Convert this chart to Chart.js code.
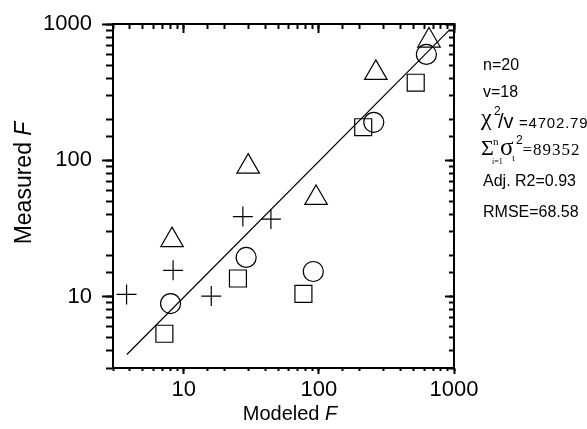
<!DOCTYPE html>
<html>
<head>
<meta charset="utf-8">
<title>Measured vs Modeled F</title>
<script src="https://cdn.jsdelivr.net/npm/chart.js@4.4.1/dist/chart.umd.min.js"></script>
<style>
  html, body { margin: 0; padding: 0; background: #fff; }
  #box { width: 587px; height: 429px; }
</style>
</head>
<body>
<div id="box"><canvas id="chart" width="587" height="429"></canvas></div>
<script>
const squareX = [7.2, 25.2, 76.9, 213, 521];
const squareY = [5.35, 13.6, 10.5, 175, 371];
const circleX = [8.0, 29, 91, 255, 625];
const circleY = [8.9, 19.4, 15.3, 190, 598];
const triangleX = [8.2, 30, 95.4, 264, 653];
const triangleY = [26, 90, 53, 438, 756];
const crossX = [3.78, 8.35, 16, 27.4, 44.2];
const crossY = [10.4, 15.6, 10.1, 38.7, 37.1];
const fitX = [3.8, 930];
const fitY = [3.77, 910];
const axisMin = 3;
const axisMax = 1000;

const SANS = '"Liberation Sans", Arial, sans-serif';
const SERIF = '"Liberation Serif", "Times New Roman", serif';

function font(size, family, style) {
  return (style || 'normal') + ' ' + size + 'px ' + family;
}

function points(xs, ys) {
  return xs.map((x, i) => ({ x, y: ys[i] }));
}

function markers(label, xs, ys, style, radius) {
  return {
    label,
    data: points(xs, ys),
    pointStyle: style,
    pointRadius: radius,
    pointHoverRadius: radius,
    pointBorderColor: '#000',
    pointBackgroundColor: 'rgba(0,0,0,0)',
    pointBorderWidth: 1.2,
    showLine: false
  };
}

function isDecade(v) {
  const e = Math.log10(v);
  return Math.abs(e - Math.round(e)) < 1e-9;
}

// each side gets a short-tick axis (all ticks) and a long-tick axis (decades only)
function logAxis(axis, position, tickLength, decadesOnly, size, padding) {
  const labels = padding !== undefined;
  return {
    type: 'logarithmic',
    axis,
    position,
    min: axisMin,
    max: axisMax,
    weight: decadesOnly ? 1 : 0,
    border: { display: !decadesOnly, color: '#000', width: 2 },
    grid: { drawOnChartArea: false, drawTicks: true, tickLength, tickColor: '#000', tickWidth: 2 },
    ticks: {
      display: labels,
      autoSkip: false,
      maxRotation: 0,
      color: '#000',
      padding: labels ? padding : 0,
      font: { family: SANS, size: 22 },
      callback: v => String(Math.round(v))
    },
    afterBuildTicks: decadesOnly ? s => { s.ticks = s.ticks.filter(t => isDecade(t.value)); } : undefined,
    afterFit: s => { if (axis === 'x') s.height = size; else s.width = size; }
  };
}

// stats block on the right, one entry per text run
const statLines = [
  [{ t: 'n=20', x: 483, y: 69.5, f: font(16, SANS) }],
  [{ t: 'v=18', x: 483, y: 96.5, f: font(16, SANS) }],
  [
    { t: 'χ', x: 481, y: 125, f: font(24, SERIF) },
    { t: '2', x: 494, y: 115, f: font(12, SANS) },
    { t: '/v', x: 498, y: 128, f: font(20, SANS) },
    { t: '=4702.79', x: 519, y: 128, f: font(15, SANS), ls: 0.8 }
  ],
  [
    { t: 'Σ', x: 481, y: 155, f: font(22, SERIF) },
    { t: 'n', x: 493, y: 145, f: font(11, SERIF) },
    { t: 'i=1', x: 492, y: 164, f: font(8, SERIF) },
    { t: 'σ', x: 500, y: 155, f: font(25, SERIF) },
    { t: 'ι', x: 512, y: 161, f: font(10, SERIF) },
    { t: '2', x: 516, y: 144, f: font(12, SANS) },
    { t: '=89352', x: 522.5, y: 155, f: font(17, SERIF), ls: 1 }
  ],
  [{ t: 'Adj. R2=0.93', x: 483, y: 186, f: font(16, SANS) }],
  [{ t: 'RMSE=68.58', x: 483, y: 217, f: font(16, SANS) }]
];

function drawRun(ctx, p) {
  ctx.font = p.f;
  if (!p.ls) {
    ctx.fillText(p.t, p.x, p.y);
    return;
  }
  let x = p.x;
  for (const ch of p.t) {
    ctx.fillText(ch, x, p.y);
    x += ctx.measureText(ch).width + p.ls;
  }
}

// "Label F" with the F in italics, centred on x
function drawTitle(ctx, word, size, x, y) {
  const a = font(size, SANS);
  const b = font(size, SANS, 'italic');
  ctx.font = a;
  const w1 = ctx.measureText(word + ' ').width;
  ctx.font = b;
  const w2 = ctx.measureText('F').width;
  const start = x - (w1 + w2) / 2;
  ctx.font = a;
  ctx.fillText(word + ' ', start, y);
  ctx.font = b;
  ctx.fillText('F', start + w1, y);
}

const notes = {
  id: 'notes',
  afterDraw(chart) {
    const ctx = chart.ctx;
    ctx.save();
    ctx.fillStyle = '#000';
    ctx.textAlign = 'left';
    ctx.textBaseline = 'alphabetic';
    statLines.forEach(line => line.forEach(p => drawRun(ctx, p)));
    drawTitle(ctx, 'Modeled', 20, 290, 420);
    ctx.translate(31, 183);
    ctx.rotate(-Math.PI / 2);
    drawTitle(ctx, 'Measured', 23, 0, 0);
    ctx.restore();
  }
};

new Chart(document.getElementById('chart'), {
  type: 'scatter',
  data: {
    datasets: [
      {
        label: 'fit',
        data: points(fitX, fitY),
        showLine: true,
        pointRadius: 0,
        borderColor: '#000',
        borderWidth: 1.2,
        fill: false
      },
      markers('squares', squareX, squareY, 'rect', 12),
      markers('circles', circleX, circleY, 'circle', 10),
      markers('triangles', triangleX, triangleY, 'triangle', 13),
      markers('crosses', crossX, crossY, 'cross', 10)
    ]
  },
  options: {
    responsive: false,
    animation: false,
    devicePixelRatio: 1,
    layout: { padding: { top: 24, right: 133, left: 0, bottom: 0 } },
    plugins: {
      legend: { display: false },
      tooltip: { enabled: false }
    },
    scales: {
      x: logAxis('x', 'bottom', 6, true, 61, 3),
      xMinor: logAxis('x', 'bottom', 3, false, 0),
      xTop: logAxis('x', 'top', -9, true, 0),
      xTopMinor: logAxis('x', 'top', -5, false, 0),
      y: logAxis('y', 'left', 11, true, 113, 10),
      yMinor: logAxis('y', 'left', 7, false, 0),
      yRight: logAxis('y', 'right', -9, true, 0),
      yRightMinor: logAxis('y', 'right', -5, false, 0)
    }
  },
  plugins: [notes]
});
</script>
</body>
</html>
